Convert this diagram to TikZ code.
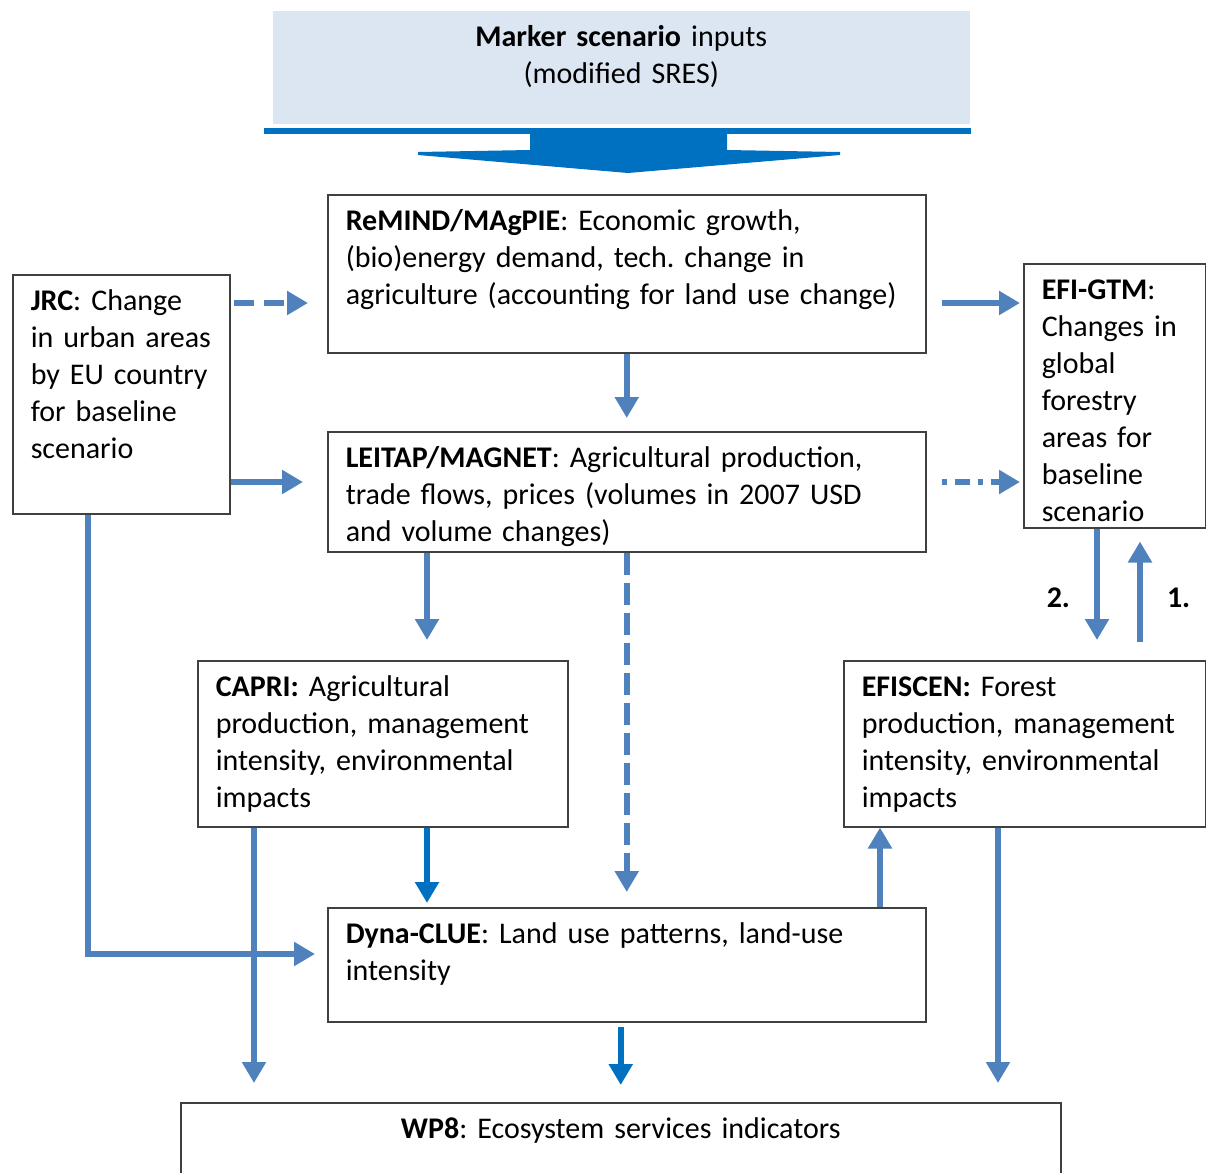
\documentclass[tikz,border=0pt]{standalone}
\usepackage{fontspec}
\setmainfont{Carlito}
\usepackage{tikz}
\usetikzlibrary{positioning,calc,arrows.meta}
\definecolor{arrowblue}{RGB}{79,129,189}
\definecolor{darkblue}{RGB}{0,112,192}
\definecolor{boxblue}{RGB}{220,230,242}
\frenchspacing

\begin{document}
\begin{tikzpicture}[x=0.5pt,y=-0.5pt,
		mod/.style={rectangle, draw=black!75, line width=0.75pt, anchor=north west, inner xsep=9pt, inner ysep=0pt, align=left, text height=18pt, font=\fontsize{15pt}{18.5pt}\selectfont},
		arr/.style={draw=arrowblue, line width=3pt, -{Triangle[width=11.5pt,length=10.5pt]}},
		darr/.style={arr, draw=darkblue},
		lbl/.style={inner sep=0pt, font=\fontsize{15pt}{18.5pt}\selectfont\bfseries}]
			\useasboundingbox (0,0) rectangle (1206,1173);
			% boxes
			\node[mod, fill=boxblue, draw=none, align=center, text width=330.5pt, text depth=38.5pt] (marker) at (272,10) {\textbf{Marker scenario} inputs\\(modified SRES)};
			\node[mod, text width=281pt, text depth=61pt] (remind) at (327,194) {\textbf{ReMIND/MAgPIE}: Economic growth,\\(bio)energy demand, tech. change in\\agriculture (accounting for land use change)};
			\node[mod, text width=90.5pt, text depth=101.5pt] (jrc) at (12,274) {\textbf{JRC}: Change\\in urban areas\\by EU country\\for baseline\\scenario};
			\node[mod, text width=73pt, text depth=114pt] (efi) at (1023,263) {\textbf{EFI-GTM}:\\Changes in\\global\\forestry\\areas for\\baseline\\scenario};
			\node[mod, text width=281pt, text depth=42pt] (leitap) at (327,431) {\textbf{LEITAP/MAGNET}: Agricultural production,\\trade flows, prices (volumes in 2007 USD\\and volume changes)};
			\node[mod, text width=167pt, text depth=65pt] (capri) at (197,660) {\textbf{CAPRI:} Agricultural\\production, management\\intensity, environmental\\impacts};
			\node[mod, text width=163pt, text depth=65pt] (efiscen) at (843,660) {\textbf{EFISCEN:} Forest\\production, management\\intensity, environmental\\impacts};
			\node[mod, text width=281pt, text depth=39pt] (dyna) at (327,907) {\textbf{Dyna-CLUE}: Land use patterns, land-use\\intensity};
			\node[mod, align=center, text width=422pt, text depth=23.5pt] (wp) at (180,1102) {\textbf{WP8}: Ecosystem services indicators};
			% big input arrow
			\fill[darkblue] ([shift={(-8,3)}]marker.south west) rectangle ([shift={(0,9)}]marker.south east);
			\fill[darkblue] (530,132) -- (727,132) -- (727,150) -- (840,152) -- (840,155) -- (628,173) -- (418,155) -- (418,152) -- (530,150) -- cycle;
			% connectors
			\draw[arr, dash pattern=on 10pt off 5pt] ([shift={(3,29)}]jrc.north east) -- ([shift={(-19,109)}]remind.north west);
			\draw[arr] ([shift={(15,109)}]remind.north east) -- ([shift={(-3,40)}]efi.north west);
			\draw[arr, shorten >=6.5pt] (remind.south) -- (leitap.north);
			\draw[arr] ([shift={(0,208)}]jrc.north east) -- ([shift={(-24,51)}]leitap.north west);
			\draw[arr, dash pattern=on 2.5pt off 4pt on 7.5pt off 4pt] ([shift={(15,51)}]leitap.north east) -- ([shift={(-3,219)}]efi.north west);
			\draw[arr] ([shift={(100,0)}]leitap.south west) -- ([shift={(230,-20)}]capri.north west);
			\draw[arr, dash pattern=on 11pt off 4pt, shorten >=7.5pt] (leitap.south) -- (dyna.north);
			\draw[arr] ([shift={(74,0)}]efi.south west) -- ([shift={(254,-20)}]efiscen.north west) node[lbl, pos=0.62, left=12pt] {2.};
			\draw[arr] ([shift={(297,-18)}]efiscen.north west) -- ([shift={(117,13)}]efi.south west) node[lbl, pos=0.44, right=12pt] {1.};
			\draw[arr] ([shift={(76,0)}]jrc.south west) |- ([shift={(-12,47)}]dyna.north west);
			\draw[arr] ([shift={(57,0)}]capri.south west) -- ([shift={(74,-19)}]wp.north west);
			\draw[darr] ([shift={(230,0)}]capri.south west) -- ([shift={(100,-4)}]dyna.north west);
			\draw[darr] ([shift={(-6,4)}]dyna.south) -- ([shift={(0,-17)}]wp.north);
			\draw[arr] ([shift={(553,0)}]dyna.north west) -- ([shift={(37,0)}]efiscen.south west);
			\draw[arr] ([shift={(155,0)}]efiscen.south west) -- ([shift={(818,-19)}]wp.north west);
		\end{tikzpicture}
\end{document}
